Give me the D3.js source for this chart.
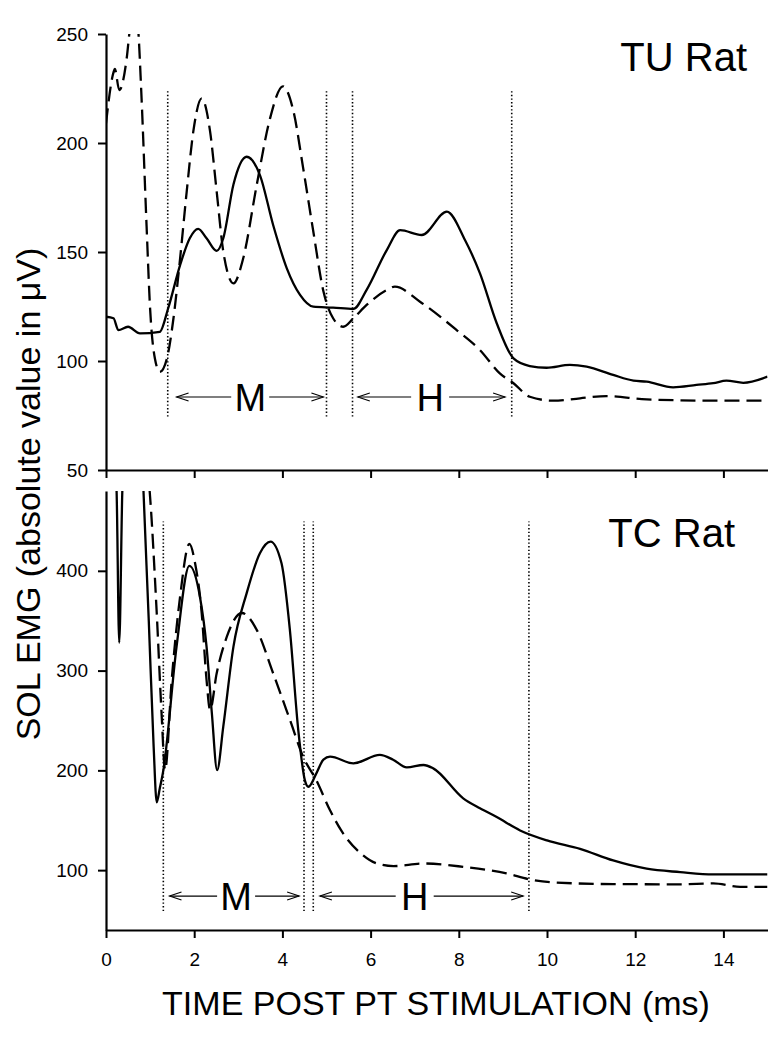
<!DOCTYPE html>
<html><head><meta charset="utf-8">
<script src="https://cdn.jsdelivr.net/npm/d3@7/dist/d3.min.js"></script>
<style>
html,body{margin:0;padding:0;background:#fff;}
text{font-family:"Liberation Sans",Arial,Helvetica,sans-serif;fill:#000;}
</style></head>
<body>
<svg id="chart" width="777" height="1050"></svg>
<script>
// ---------- DATA (time in ms, amplitude in µV) ----------
const xTicks = [0, 2, 4, 6, 8, 10, 12, 14];
const tuYTicks = [50, 100, 150, 200, 250];
const tcYTicks = [100, 200, 300, 400];

// TU Rat, solid trace
const tuSolid = [[0,120.3],[0.17,119.6],[0.28,114.2],[0.5,115.7],[0.77,112.7],[1.22,113.4],[1.41,124.2],[1.68,144],[1.9,156.3],[2.09,160.6],[2.28,156.3],[2.51,150.5],[2.66,156.3],[2.89,181],[3.19,193.7],[3.49,185.3],[3.79,162.4],[4.1,142.5],[4.4,130.3],[4.7,124.9],[5.15,124.5],[5.61,123.9],[5.91,132.6],[6.37,151],[6.67,160],[7.16,157.8],[7.73,168.5],[8.14,155.5],[8.48,140.2],[8.86,117.3],[9.24,101.2],[9.61,97.7],[9.99,96.9],[10.52,98.2],[10.9,97.4],[11.5,93.6],[11.96,91],[12.26,90.5],[12.86,87.9],[13.39,89],[13.77,89.8],[14.07,91],[14.45,90],[15,92.8]];
// TU Rat, dashed trace
const tuDashed = [[0,209],[0.17,232.4],[0.2,234],[0.3,224.3],[0.47,239],[0.54,252],[0.65,262],[0.73,252],[0.8,223.5],[0.92,162],[1.0,124],[1.11,101],[1.22,95],[1.38,101],[1.53,119.6],[1.68,147],[1.83,177.7],[1.98,205.3],[2.17,220.5],[2.36,205.3],[2.51,177.7],[2.66,150.2],[2.89,135.6],[3.11,147],[3.42,181],[3.72,211.3],[4.01,226],[4.25,214.6],[4.47,188.6],[4.7,159.5],[4.93,132],[5.15,119.6],[5.38,115.7],[5.61,119.6],[5.91,125.7],[6.37,132.6],[6.55,134.1],[7.12,127.2],[7.95,114.2],[8.48,105],[8.93,94.3],[9.24,89.8],[9.61,83.6],[10.14,81.8],[10.75,82.9],[11.35,83.9],[12.26,82.4],[13.77,81.8],[15,81.8]];
// TC Rat, solid trace
const tcSolid = [[0,600],[0.18,520],[0.24,480],[0.3,328],[0.37,480],[0.45,540],[0.7,560],[0.8,540],[0.85,480],[0.97,350],[1.08,224],[1.15,168],[1.22,182],[1.3,200],[1.6,324],[1.89,405],[2.13,374],[2.28,324],[2.4,257.5],[2.52,200.3],[2.66,244],[2.89,324],[3.19,377.6],[3.49,417.7],[3.73,429.3],[3.98,407.5],[4.17,340.6],[4.36,240.3],[4.51,190],[4.59,183.6],[4.77,197],[4.93,210.7],[5.08,213.7],[5.61,207],[6.21,215.5],[6.51,210.7],[6.82,202.9],[7.2,205.4],[7.42,202],[8.1,172],[8.48,162],[8.86,153.2],[9.39,139.8],[10.0,129.8],[10.75,121.4],[11.5,109.7],[12.26,101.4],[13.02,98],[13.77,95.7],[15,95.7]];
// TC Rat, dashed trace
const tcDashed = [[0,620],[0.6,600],[0.9,520],[0.99,480],[1.15,358],[1.26,257],[1.34,200.3],[1.49,290.6],[1.68,374],[1.89,427],[2.02,407.5],[2.17,357.7],[2.28,290.6],[2.36,260.5],[2.51,297.3],[2.74,334],[3.08,357.7],[3.42,340.6],[3.79,297.3],[4.17,250.8],[4.47,213.7],[4.77,190],[5.08,160],[5.33,140],[5.78,116.7],[6.14,106.7],[6.52,104],[7.19,106.7],[8.1,103.3],[9.08,96.7],[9.61,90.7],[10.14,87.7],[11.5,86],[13.02,85.8],[13.77,86.7],[14.38,83.3],[15,83.3]];

// window boundaries (dotted lines), ms
const tuWindows = [1.4, 5.0, 5.59, 9.2];
const tcWindows = [1.3, 4.49, 4.7, 9.59];
const tuWindowRange = [74.5, 224];
const tcWindowRange = [59, 449.5];

// M / H annotations: label, arrow start, arrow end, label centre (ms), level (µV)
const tuLabels = [["M",1.6,4.93,3.27,83.5],["H",5.71,9.05,7.35,83.5]];
const tcLabels = [["M",1.44,4.38,2.95,74],["H",4.85,9.46,7.0,74]];

// ---------- DRAWING ----------
const svg = d3.select("#chart");
const x = d3.scaleLinear().domain([0,15]).range([106,767.5]);
const yTU = d3.scaleLinear().domain([50,250]).range([470,34]);
const yTC = d3.scaleLinear().domain([40,480]).range([930,491]);

function panel(id, y, yTicks, solid, dashed, windows, wRange, labels, title, titleX, titleY, showXLabels){
  const g = svg.append("g");
  const clipId = "clip-"+id;
  svg.append("defs").append("clipPath").attr("id",clipId).append("rect")
    .attr("x",x.range()[0]).attr("y",y.range()[1])
    .attr("width",x.range()[1]-x.range()[0]).attr("height",y.range()[0]-y.range()[1]);

  // dotted window lines
  g.selectAll(".win").data(windows).join("line")
    .attr("x1",d=>x(d)).attr("x2",d=>x(d))
    .attr("y1",y(wRange[0])).attr("y2",y(wRange[1]))
    .attr("stroke","#000").attr("stroke-width",1.6).attr("stroke-dasharray","1.4,2.2");

  const line = d3.line().x(d=>x(d[0])).y(d=>y(d[1])).curve(d3.curveMonotoneX);
  const cg = g.append("g").attr("clip-path","url(#"+clipId+")");
  cg.append("path").datum(solid).attr("d",line).attr("fill","none")
    .attr("stroke","#000").attr("stroke-width",2.3).attr("stroke-linejoin","round");
  cg.append("path").datum(dashed).attr("d",line).attr("fill","none")
    .attr("stroke","#000").attr("stroke-width",2.3).attr("stroke-dasharray","15,7");

  // axes
  const ya = g.append("g").attr("transform",`translate(${x.range()[0]},0)`)
    .call(d3.axisLeft(y).tickValues(yTicks).tickSize(8).tickSizeOuter(0).tickPadding(10));
  const xa = g.append("g").attr("transform",`translate(0,${y.range()[0]})`)
    .call(d3.axisBottom(x).tickValues(xTicks).tickSize(8).tickSizeOuter(0).tickPadding(15)
      .tickFormat(showXLabels ? d3.format("d") : ""));
  [ya,xa].forEach(a=>{
    a.select(".domain").attr("stroke","#000").attr("stroke-width",2.2);
    a.selectAll(".tick line").attr("stroke","#000").attr("stroke-width",2);
    a.selectAll(".tick text").attr("font-size",19).attr("font-family","Liberation Sans, Arial, sans-serif").attr("fill","#000");
  });

  // M/H annotations
  labels.forEach(([lab,a,b,c,lv])=>{
    const yy = y(lv), xa_ = x(a), xb = x(b), xc = x(c);
    const gap = 19;
    const ag = g.append("g").attr("stroke","#000").attr("stroke-width",1.1).attr("fill","none");
    ag.append("line").attr("x1",xa_).attr("x2",xc-gap).attr("y1",yy).attr("y2",yy);
    ag.append("line").attr("x1",xc+gap).attr("x2",xb).attr("y1",yy).attr("y2",yy);
    ag.append("path").attr("d",`M${xa_+12},${yy-4}L${xa_},${yy}L${xa_+12},${yy+4}`);
    ag.append("path").attr("d",`M${xb-12},${yy-4}L${xb},${yy}L${xb-12},${yy+4}`);
    g.append("text").attr("x",xc).attr("y",yy+14).attr("text-anchor","middle")
      .attr("font-size",38).text(lab);
  });

  g.append("text").attr("x",titleX).attr("y",titleY).attr("text-anchor","end")
    .attr("font-size",40).text(title);
}

panel("tu", yTU, tuYTicks, tuSolid, tuDashed, tuWindows, tuWindowRange, tuLabels, "TU Rat", 747, 71, false);
panel("tc", yTC, tcYTicks, tcSolid, tcDashed, tcWindows, tcWindowRange, tcLabels, "TC Rat", 735, 547, true);

// axis titles
svg.append("text").attr("x",436).attr("y",1015).attr("text-anchor","middle")
  .attr("font-size",34).text("TIME POST PT STIMULATION (ms)");
svg.append("text").attr("transform","translate(40,494) rotate(-90)").attr("text-anchor","middle")
  .attr("font-size",34).text("SOL EMG (absolute value in \u03BCV)");
</script>
</body></html>
